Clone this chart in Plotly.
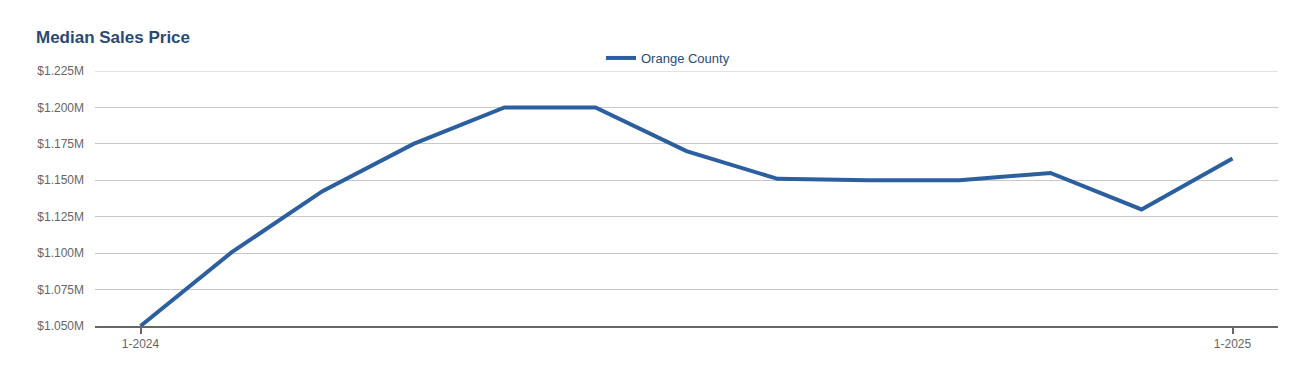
import plotly.graph_objects as go

months = ["1-2024", "2-2024", "3-2024", "4-2024", "5-2024", "6-2024", "7-2024",
          "8-2024", "9-2024", "10-2024", "11-2024", "12-2024", "1-2025"]
orange_county = [1050000, 1100500, 1142500, 1175000, 1200000, 1200000, 1170000,
                 1151000, 1150000, 1150000, 1155000, 1130000, 1165000]
y_ticks = [1050000, 1075000, 1100000, 1125000, 1150000, 1175000, 1200000, 1225000]
y_tick_labels = ["$1.050M", "$1.075M", "$1.100M", "$1.125M", "$1.150M", "$1.175M", "$1.200M", "$1.225M"]
x_tick_labels = ["1-2024", "1-2025"]

idx = list(range(len(months)))

W, H = 1314, 372
ML, MR, MT, MB = 95, 36, 71, 46
plot_h = H - MT - MB
plot_w = W - ML - MR

fig = go.Figure()
fig.add_trace(go.Scatter(
    x=idx, y=orange_county, mode="lines", name="Orange County",
    line=dict(color="#2b5f9f", width=4), customdata=months,
    hovertemplate="%{customdata}: %{y:$,.0f}<extra></extra>",
    cliponaxis=False,
))

# top gridline (at the edge of the plot area)
fig.add_hline(y=y_ticks[-1], line=dict(color="#c8c8c8", width=1), layer="below")

fig.update_layout(
    width=W, height=H,
    margin=dict(l=ML, r=MR, t=MT, b=MB, autoexpand=False),
    paper_bgcolor="white", plot_bgcolor="white",
    font=dict(family="Liberation Sans, Arial, sans-serif", size=12, color="#666666"),
    title=dict(text="<b>Median Sales Price</b>", x=36 / W, xanchor="left",
               y=1 - 37 / H, yanchor="middle",
               font=dict(size=17, color="#2a4a74")),
    showlegend=True,
    legend=dict(orientation="h", x=(668 - ML) / plot_w, xanchor="center",
                y=1 + (MT - 58) / plot_h, yanchor="middle",
                font=dict(size=13, color="#2a4a74"), itemwidth=30,
                bgcolor="rgba(0,0,0,0)"),
    xaxis=dict(range=[-0.5, len(months) - 0.5], tickvals=[idx[0], idx[-1]],
               ticktext=x_tick_labels, showgrid=False, zeroline=False,
               showline=True, linecolor="#666666", linewidth=2,
               ticks="outside", ticklen=6, tickwidth=2, tickcolor="#666666",
               tickfont=dict(size=12, color="#666666")),
    yaxis=dict(range=[1050000, 1225000], tickvals=y_ticks, ticktext=y_tick_labels,
               showgrid=True, gridcolor="#c8c8c8", gridwidth=1, zeroline=False,
               showline=False, ticks="", ticklabelstandoff=10,
               tickfont=dict(size=12, color="#666666")),
)

fig.write_html("out.html", config={"displayModeBar": False},
               post_script="document.body.style.margin='0';")
